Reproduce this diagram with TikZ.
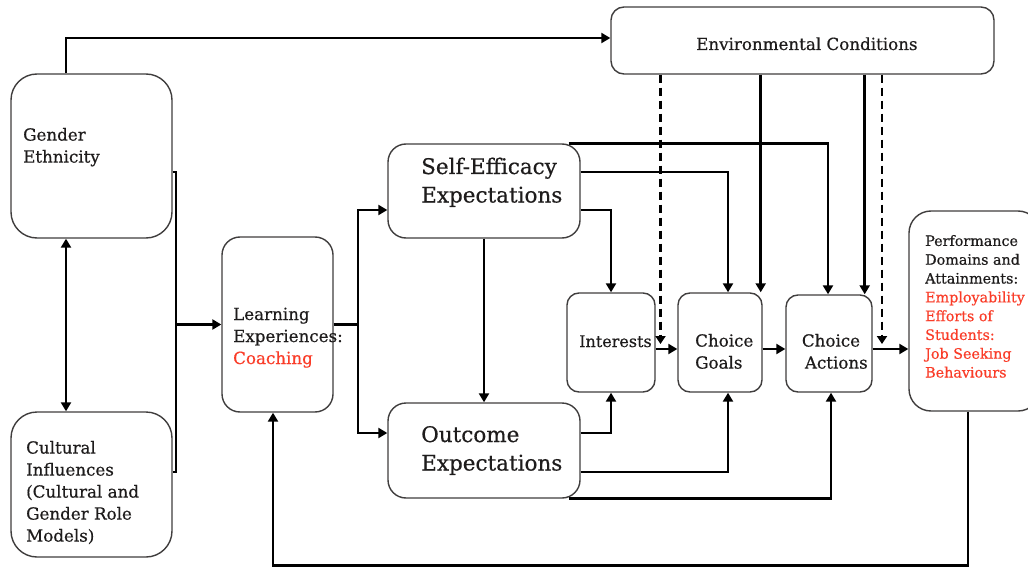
\documentclass[tikz,border=0pt]{standalone}
\usepackage{fontspec}
\setmainfont{DejaVu Serif}[FakeBold=0.5]
\usetikzlibrary{arrows.meta}
\definecolor{ink}{RGB}{30,28,28}
\definecolor{redtxt}{RGB}{250,60,40}
\newcommand{\fsN}{\fontsize{16.7}{22}\selectfont}
\newcommand{\fsB}{\fontsize{21.5}{28.5}\selectfont}
\newcommand{\fsS}{\fontsize{14.3}{18.8}\selectfont}
\newcommand{\fsI}{\fontsize{16}{20}\selectfont}
\tikzset{
  box/.style={draw=ink!85, line width=1.4pt, fill=white, inner sep=0pt},
  txt/.style={text=ink, inner sep=0pt, align=left},
  conn/.style={draw=black, line width=2.7pt, -{Triangle[length=9pt,width=10pt]}},
  plain/.style={draw=black, line width=2.7pt},
  dconn/.style={draw=black, line width=2.7pt, dash pattern=on 8pt off 5pt, -{Triangle[length=8pt,width=10pt]}},
}
\begin{document}
\begin{tikzpicture}[x=1pt,y=-1pt]
\useasboundingbox (0,0) rectangle (1028,567);
\clip (0,0) rectangle (1028,567);
% boxes
\node[box, rounded corners=13pt, minimum width=383, minimum height=67] (env) at (802.5,40.5) {};
\node[box, rounded corners=26pt, minimum width=161, minimum height=164] (ge) at (91.5,156) {};
\node[box, rounded corners=26pt, minimum width=161, minimum height=145] (ci) at (91.5,484.5) {};
\node[box, rounded corners=18pt, minimum width=111, minimum height=175] (le) at (277.5,324.5) {};
\node[box, rounded corners=18pt, minimum width=192, minimum height=94] (se) at (484,191) {};
\node[box, rounded corners=18pt, minimum width=192, minimum height=95] (oe) at (484,450.5) {};
\node[box, rounded corners=12pt, minimum width=88, minimum height=99] (in) at (611,342.5) {};
\node[box, rounded corners=12pt, minimum width=84, minimum height=99] (cg) at (720,342.5) {};
\node[box, rounded corners=12pt, minimum width=86, minimum height=97] (ca) at (829,343.5) {};
\node[box, rounded corners=22pt, minimum width=131, minimum height=200] (pd) at (974.5,311) {};
% texts
\node[txt, font=\fsN, anchor=base west] (envt) at (696,50) {Environmental Conditions};
\node[txt, font=\fsN, anchor=base west] (get) at (23,162.6) {Gender\\Ethnicity};
\node[txt, font=\fsN, anchor=base west] (cit) at (26,541.6) {Cultural\\Influences\\(Cultural and\\Gender Role\\Models)};
\node[txt, font=\fsN, anchor=base west] (let) at (233,364) {Learning\\Experiences:\\\textcolor{redtxt}{Coaching}};
\node[txt, font=\fsB, anchor=base west] (set) at (421,202.5) {Self-Efficacy\\Expectations};
\node[txt, font=\fsB, anchor=base west] (oet) at (421,470.5) {Outcome\\Expectations};
\node[txt, font=\fsI, anchor=base west] (int) at (579,347) {Interests};
\node[txt, font=\fsN, anchor=base west] (cgt) at (695,368.6) {Choice\\Goals};
\node[txt, font=\fsN, anchor=base, align=center] (cat) at (831,368.6) {Choice\\\ \ Actions};
\node[txt, font=\fsS, anchor=base west] (pdt) at (925,377.5) {Performance\\Domains and\\Attainments:\\\textcolor{redtxt}{Employability}\\\textcolor{redtxt}{Efforts of}\\\textcolor{redtxt}{Students:}\\\textcolor{redtxt}{Job Seeking}\\\textcolor{redtxt}{Behaviours}};
% coordinates
\coordinate (j1) at (176,324.5);
\coordinate (j2) at (358,324.5);
\coordinate (d1) at (660.5,344);
\coordinate (d2) at (882,344);
\coordinate (p1) at ([yshift=-5.5]ca.east);
% connectors
\draw[conn] ([xshift=-25.5]ge.north) |- ([yshift=2.5]env.west);
\draw[conn, {Triangle[length=9pt,width=10pt]}-{Triangle[length=9pt,width=10pt]}] ([xshift=-25.5]ge.south) -- ([xshift=-25.5]ci.north);
\draw[plain] ([yshift=-16]ge.east) -| (j1) |- ([yshift=12.5]ci.east);
\draw[conn] (j1) -- (le.west);
\draw[plain] (le.east) -- (j2);
\draw[conn] (j2) |- ([yshift=-19]se.west);
\draw[conn] (j2) |- ([yshift=17.5]oe.west);
\draw[conn] (se.south) -- (oe.north);
\draw[conn] ([yshift=-19]se.east) -| (in.north);
\draw[conn] ([yshift=19]se.east) -| ([xshift=8]cg.north);
\draw[conn] ([xshift=-12]se.north east) -| ([xshift=-1]ca.north);
\draw[conn] ([yshift=17.5]oe.east) -| (in.south);
\draw[conn] ([yshift=-21.5]oe.east) -| ([xshift=8]cg.south);
\draw[conn] ([xshift=-12]oe.south east) -| ([xshift=2]ca.south);
\draw[conn] ([yshift=-6.5]in.east) -- ([yshift=-6.5]cg.west);
\draw[conn] ([yshift=-6.5]cg.east) -- ([yshift=-5.5]ca.west);
\draw[conn] (p1) -- (p1 -| pd.west);
\draw[dconn] (env.south -| d1) -- (d1);
\draw[dconn] (env.south -| d2) -- (d2);
\draw[conn] ([xshift=-2]cg.north east |- env.south) -- ([xshift=-2]cg.north east);
\draw[conn] ([xshift=-8]ca.north east |- env.south) -- ([xshift=-8]ca.north east);
\draw[conn] ([xshift=-6.5]pd.south) -- ++(0,154) -| ([xshift=-4.5]le.south);
\end{tikzpicture}
\end{document}
